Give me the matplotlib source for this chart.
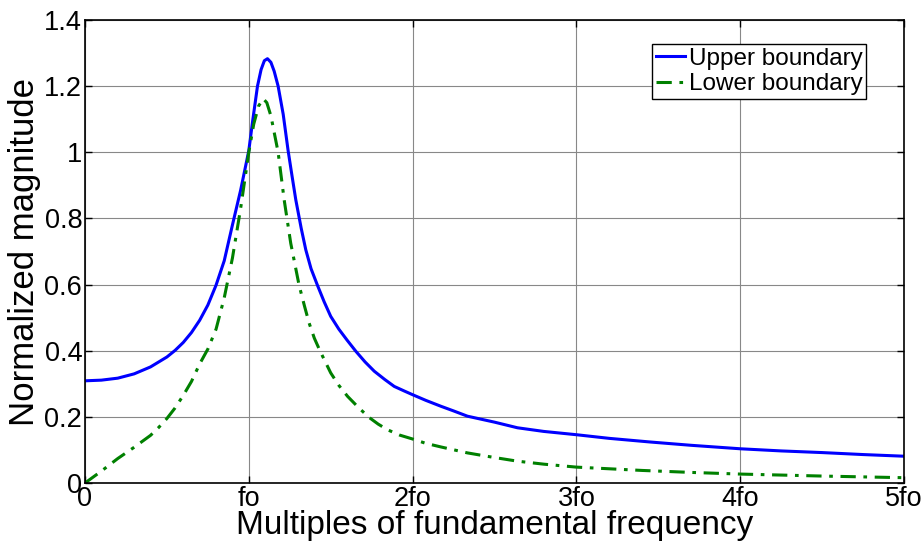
import matplotlib
matplotlib.use("Agg")
import matplotlib.pyplot as plt

plt.rcParams['font.family'] = ['Liberation Sans', 'DejaVu Sans']

upper_x = [0.0, 0.1, 0.2, 0.3, 0.4, 0.5, 0.55, 0.6, 0.65, 0.7, 0.75, 0.8, 0.85, 0.9, 0.95,
           1.0, 1.025, 1.053, 1.075, 1.095, 1.114, 1.135, 1.155, 1.179, 1.21, 1.24, 1.265,
           1.287, 1.32, 1.348, 1.38, 1.419, 1.46, 1.50, 1.55, 1.60, 1.654, 1.71, 1.766,
           1.83, 1.888, 1.95, 2.0, 2.08, 2.173, 2.25, 2.335, 2.5, 2.64, 2.8, 3.0, 3.2,
           3.45, 3.7, 4.0, 4.25, 4.5, 4.75, 5.0]
upper_y = [0.309, 0.311, 0.317, 0.330, 0.351, 0.381, 0.401, 0.425, 0.455, 0.492, 0.538,
           0.598, 0.672, 0.780, 0.885, 1.005, 1.100, 1.200, 1.250, 1.277, 1.283, 1.272,
           1.245, 1.200, 1.115, 1.005, 0.925, 0.856, 0.770, 0.705, 0.648, 0.598, 0.548,
           0.504, 0.465, 0.432, 0.398, 0.366, 0.338, 0.313, 0.292, 0.278, 0.267, 0.250,
           0.232, 0.218, 0.202, 0.184, 0.167, 0.156, 0.146, 0.135, 0.124, 0.114, 0.1035,
           0.097, 0.092, 0.086, 0.081]

lower_x = [0.0, 0.1, 0.2, 0.3, 0.4, 0.45, 0.5, 0.55, 0.6, 0.65, 0.7, 0.75, 0.8, 0.85,
           0.9, 0.95, 1.0, 1.03, 1.06, 1.088, 1.11, 1.135, 1.155, 1.179, 1.216, 1.256,
           1.307, 1.34, 1.368, 1.40, 1.436, 1.50, 1.55, 1.603, 1.67, 1.735, 1.79, 1.847,
           1.92, 2.0, 2.08, 2.173, 2.335, 2.5, 2.64, 2.8, 3.0, 3.2, 3.4, 3.7, 4.0, 4.5, 5.0]
lower_y = [0.000, 0.036, 0.074, 0.108, 0.144, 0.168, 0.195, 0.227, 0.265, 0.307, 0.360,
           0.405, 0.465, 0.560, 0.680, 0.830, 1.000, 1.085, 1.140, 1.162, 1.150, 1.110,
           1.060, 1.000, 0.856, 0.725, 0.598, 0.535, 0.484, 0.438, 0.398, 0.333, 0.295,
           0.262, 0.228, 0.198, 0.178, 0.161, 0.145, 0.133, 0.120, 0.109, 0.091, 0.077,
           0.066, 0.057, 0.048, 0.043, 0.038, 0.032, 0.027, 0.021, 0.016]

xtick_vals = [0, 1, 2, 3, 4, 5]
xtick_labels = ['0', 'fo', '2fo', '3fo', '4fo', '5fo']
ytick_vals = [0, 0.2, 0.4, 0.6, 0.8, 1.0, 1.2, 1.4]
ytick_labels = ['0', '0.2', '0.4', '0.6', '0.8', '1', '1.2', '1.4']

fig = plt.figure(figsize=(9.24, 5.46), dpi=100)
ax = fig.add_axes([85/924, 1 - 483/546, (904 - 85)/924, (483 - 20)/546])

ax.plot(upper_x, upper_y, color='#0000FF', lw=2.2, label='Upper boundary',
        solid_joinstyle='round')
ax.plot(lower_x, lower_y, color='#008000', lw=2.2, linestyle=(0, (5, 2.5, 1.2, 2.5)),
        label='Lower boundary', dash_joinstyle='round')

ax.set_xlim(0, 5)
ax.set_ylim(0, 1.4)
ax.set_xticks(xtick_vals)
ax.set_xticklabels(xtick_labels)
ax.set_yticks(ytick_vals)
ax.set_yticklabels(ytick_labels)
ax.grid(True, color='#888888', lw=0.8)
ax.tick_params(direction='in', top=True, right=True, labelsize=19.5, length=5, width=1,
               pad=2)
for s in ax.spines.values():
    s.set_linewidth(1.2)

ax.set_xlabel('Multiples of fundamental frequency', fontsize=24, labelpad=-1)
ax.set_ylabel('Normalized magnitude', fontsize=25, labelpad=2)

leg = ax.legend(loc='upper right', bbox_to_anchor=(866/924, 1 - 44/546),
                bbox_transform=fig.transFigure, fontsize=17.5, frameon=True,
                fancybox=False, edgecolor='black', framealpha=1,
                handlelength=1.2, handletextpad=0.15, borderpad=0.15,
                labelspacing=0.15, borderaxespad=0)
leg.get_frame().set_linewidth(1.0)

fig.savefig('out.png', dpi=100)
